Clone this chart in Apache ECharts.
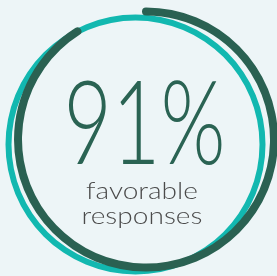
<!DOCTYPE html>
<html>
<head>
<meta charset="utf-8">
<script src="https://cdn.jsdelivr.net/npm/echarts@6/dist/echarts.min.js"></script>
<style>
  html, body { margin: 0; padding: 0; background: #edf5f7; }
  #main { width: 277px; height: 276px; }
</style>
</head>
<body>
<div id="main"></div>
<script>
// 数据
const favorable = [91];
const scaleMax = [100];
const captionLines = ['favorable', 'responses'];

const myChart = echarts.init(document.getElementById('main'));
myChart.setOption({
    backgroundColor: '#edf5f7',
    graphic: [
        {
            // 大号百分比，横向压窄以接近原图字体
            type: 'text',
            x: 144.5,
            y: 69,
            scaleX: 0.72,
            style: {
                x: 0,
                y: 0,
                text: favorable[0] + '%',
                font: '300 116px Lato',
                align: 'center',
                verticalAlign: 'top',
                fill: '#2a6353'
            }
        },
        {
            type: 'text',
            x: 142,
            y: 178.7,
            scaleX: 1.17,
            style: {
                x: 0,
                y: 0,
                text: captionLines.join('\n'),
                font: '300 24px Lato',
                lineHeight: 25,
                align: 'center',
                verticalAlign: 'top',
                fill: '#4a4a4a'
            }
        }
    ],
    series: [
        {
            // 外圈青色细环
            type: 'gauge',
            center: [135.5, 144.5],
            radius: 130,
            startAngle: 90,
            endAngle: -270,
            min: 0,
            max: scaleMax[0],
            axisLine: { lineStyle: { width: 6, color: [[1, '#12b8b0']] } },
            axisTick: { show: false },
            splitLine: { show: false },
            axisLabel: { show: false },
            pointer: { show: false },
            detail: { show: false },
            data: []
        },
        {
            // 深绿色进度弧
            type: 'gauge',
            center: [146, 139.5],
            radius: 132,
            startAngle: 90,
            endAngle: -270,
            min: 0,
            max: scaleMax[0],
            progress: { show: true, roundCap: true, width: 8, itemStyle: { color: '#2a6152' } },
            axisLine: { show: false, lineStyle: { width: 8 } },
            axisTick: { show: false },
            splitLine: { show: false },
            axisLabel: { show: false },
            pointer: { show: false },
            detail: { show: false },
            data: favorable.map(v => ({ value: v }))
        }
    ]
});
</script>
</body>
</html>
